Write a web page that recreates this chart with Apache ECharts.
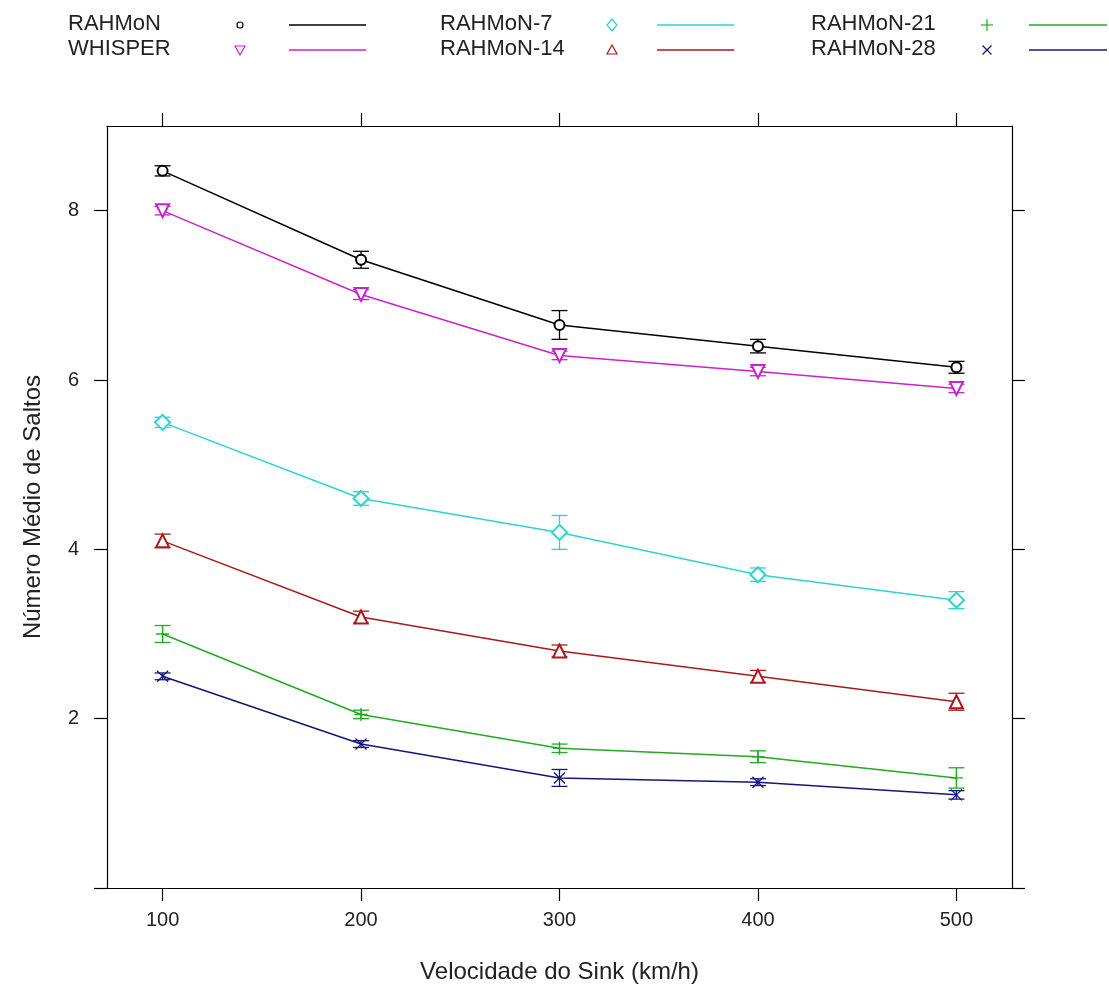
<!DOCTYPE html>
<html><head><meta charset="utf-8">
<script src="https://cdn.jsdelivr.net/npm/echarts@6/dist/echarts.min.js"></script>
<style>html,body{margin:0;padding:0;background:#fff}#c{width:1109px;height:991px}</style>
</head><body><div id="c"></div>
<script>
const speeds = [100, 200, 300, 400, 500];
const seriesNames = ['RAHMoN', 'WHISPER', 'RAHMoN-7', 'RAHMoN-14', 'RAHMoN-21', 'RAHMoN-28'];
const rahmon   = [8.47, 7.42, 6.65, 6.40, 6.15];
const whisper  = [8.00, 7.01, 6.29, 6.10, 5.90];
const rahmon7  = [5.50, 4.60, 4.20, 3.70, 3.40];
const rahmon14 = [4.10, 3.20, 2.80, 2.50, 2.20];
const rahmon21 = [3.00, 2.05, 1.65, 1.55, 1.30];
const rahmon28 = [2.50, 1.70, 1.30, 1.25, 1.10];
const errRahmon   = [0.06, 0.10, 0.17, 0.08, 0.07];
const errWhisper  = [0.05, 0.06, 0.05, 0.05, 0.05];
const errRahmon7  = [0.06, 0.08, 0.20, 0.08, 0.10];
const errRahmon14 = [0.08, 0.07, 0.07, 0.07, 0.10];
const errRahmon21 = [0.10, 0.05, 0.05, 0.07, 0.12];
const errRahmon28 = [0.04, 0.04, 0.10, 0.04, 0.05];
const xTicks = [100, 200, 300, 400, 500];
const yTicks = [0, 2, 4, 6, 8];
const yLabels = [2, 4, 6, 8];

const colors = ['#000000', '#CC22CC', '#2CD4D4', '#AA1A1A', '#22AA22', '#16167A'];
const values = [rahmon, whisper, rahmon7, rahmon14, rahmon21, rahmon28];
const errs = [errRahmon, errWhisper, errRahmon7, errRahmon14, errRahmon21, errRahmon28];
const PLUS = 'path://M0,5L10,5M5,0L5,10';
const CROSS = 'path://M0,0L10,10M0,10L10,0';
const symbols = [
  {symbol: 'emptyCircle', size: 10, rot: 0},
  {symbol: 'emptyTriangle', size: 13, rot: 180},
  {symbol: 'emptyDiamond', size: 15, rot: 0},
  {symbol: 'emptyTriangle', size: 13, rot: 0},
  {symbol: PLUS, size: 13, rot: 0},
  {symbol: CROSS, size: 11, rot: 0}
];
const FONT = '"Liberation Sans", Arial, sans-serif';

const chart = echarts.init(document.getElementById('c'), null, {renderer: 'canvas'});
const series = [];
values.forEach((vals, k) => {
  const c = colors[k];
  series.push({
    type: 'line', name: seriesNames[k],
    data: vals.map((v, i) => [speeds[i], v]),
    symbol: symbols[k].symbol, symbolSize: symbols[k].size, symbolRotate: symbols[k].rot,
    showAllSymbol: true,
    lineStyle: {color: c, width: 1.5},
    itemStyle: {color: c, borderColor: c, borderWidth: 1.3},
    z: 4, silent: true, animation: false
  });
  series.push({
    type: 'custom', name: seriesNames[k] + ' err',
    data: vals.map((v, i) => [speeds[i], v - errs[k][i], v + errs[k][i]]),
    encode: {x: 0, y: [1, 2]},
    renderItem: function (params, api) {
      const x = api.value(0), lo = api.value(1), hi = api.value(2);
      const p1 = api.coord([x, lo]), p2 = api.coord([x, hi]);
      const w = 8;
      const st = {stroke: c, lineWidth: 1.3};
      return {type: 'group', children: [
        {type: 'line', shape: {x1: p1[0], y1: p1[1], x2: p2[0], y2: p2[1]}, style: st},
        {type: 'line', shape: {x1: p1[0] - w, y1: p1[1], x2: p1[0] + w, y2: p1[1]}, style: st},
        {type: 'line', shape: {x1: p2[0] - w, y1: p2[1], x2: p2[0] + w, y2: p2[1]}, style: st}
      ]};
    },
    z: 3, silent: true, animation: false
  });
});

// Legend (drawn as graphic: text, symbol, line)
const legendCols = [
  {tx: 68, sx: 240, lx1: 289, lx2: 366},
  {tx: 440, sx: 612, lx1: 657, lx2: 734},
  {tx: 811, sx: 987, lx1: 1029, lx2: 1107}
];
const legendRows = [25, 50];
function legendSymbol(k, x, y, c) {
  const st = {stroke: c, fill: 'none', lineWidth: 1.2};
  switch (k) {
    case 0: return {type: 'circle', shape: {cx: x, cy: y, r: 3}, style: st};
    case 1: return {type: 'polygon', shape: {points: [[x - 5, y - 4], [x + 5, y - 4], [x, y + 5]]}, style: st};
    case 2: return {type: 'polygon', shape: {points: [[x, y - 6], [x + 5, y], [x, y + 6], [x - 5, y]]}, style: st};
    case 3: return {type: 'polygon', shape: {points: [[x - 5, y + 4], [x + 5, y + 4], [x, y - 5]]}, style: st};
    case 4: return {type: 'group', children: [
      {type: 'line', shape: {x1: x - 6, y1: y, x2: x + 6, y2: y}, style: st},
      {type: 'line', shape: {x1: x, y1: y - 6, x2: x, y2: y + 6}, style: st}]};
    default: return {type: 'group', children: [
      {type: 'line', shape: {x1: x - 4.5, y1: y - 4.5, x2: x + 4.5, y2: y + 4.5}, style: st},
      {type: 'line', shape: {x1: x - 4.5, y1: y + 4.5, x2: x + 4.5, y2: y - 4.5}, style: st}]};
  }
}
const graphics = [];
seriesNames.forEach((name, k) => {
  const col = legendCols[Math.floor(k / 2)];
  const y = legendRows[k % 2];
  graphics.push({type: 'text', left: col.tx, top: y - 12, style: {text: name, font: '22px ' + FONT, fill: '#222'}, silent: true});
  graphics.push(legendSymbol(k, col.sx, y, colors[k]));
  graphics.push({type: 'line', shape: {x1: col.lx1, y1: y, x2: col.lx2, y2: y}, style: {stroke: colors[k], lineWidth: 1.6}, silent: true});
});

const axisLine = {show: true, onZero: false, lineStyle: {color: '#000', width: 1.2}};
const axisTick = {show: true, inside: false, length: 13, lineStyle: {color: '#000', width: 1.2}};
const labelStyle = {color: '#222', fontSize: 20, fontFamily: FONT};

chart.setOption({
  animation: false,
  backgroundColor: '#fff',
  grid: {left: 107, right: 97, top: 126, bottom: 103, containLabel: false},
  xAxis: [
    {type: 'value', position: 'bottom', min: 72, max: 528,
      axisLine, axisTick: Object.assign({customValues: xTicks}, axisTick),
      axisLabel: Object.assign({customValues: xTicks, margin: 22}, labelStyle),
      splitLine: {show: false},
      name: 'Velocidade do Sink (km/h)', nameLocation: 'middle', nameGap: 72,
      nameTextStyle: {color: '#222', fontSize: 24, fontFamily: FONT}},
    {type: 'value', position: 'top', min: 72, max: 528,
      axisLine, axisTick: Object.assign({customValues: xTicks}, axisTick),
      axisLabel: {show: false}, splitLine: {show: false}}
  ],
  yAxis: [
    {type: 'value', position: 'left', min: 0, max: 9,
      axisLine, axisTick: Object.assign({customValues: yTicks}, axisTick),
      axisLabel: Object.assign({customValues: yLabels, margin: 28}, labelStyle),
      splitLine: {show: false},
      name: 'Número Médio de Saltos', nameLocation: 'middle', nameGap: 62, nameRotate: 90,
      nameTextStyle: {color: '#222', fontSize: 24, fontFamily: FONT}},
    {type: 'value', position: 'right', min: 0, max: 9,
      axisLine, axisTick: Object.assign({customValues: yTicks}, axisTick),
      axisLabel: {show: false}, splitLine: {show: false}}
  ],
  graphic: graphics,
  series: series
});
</script></body></html>
